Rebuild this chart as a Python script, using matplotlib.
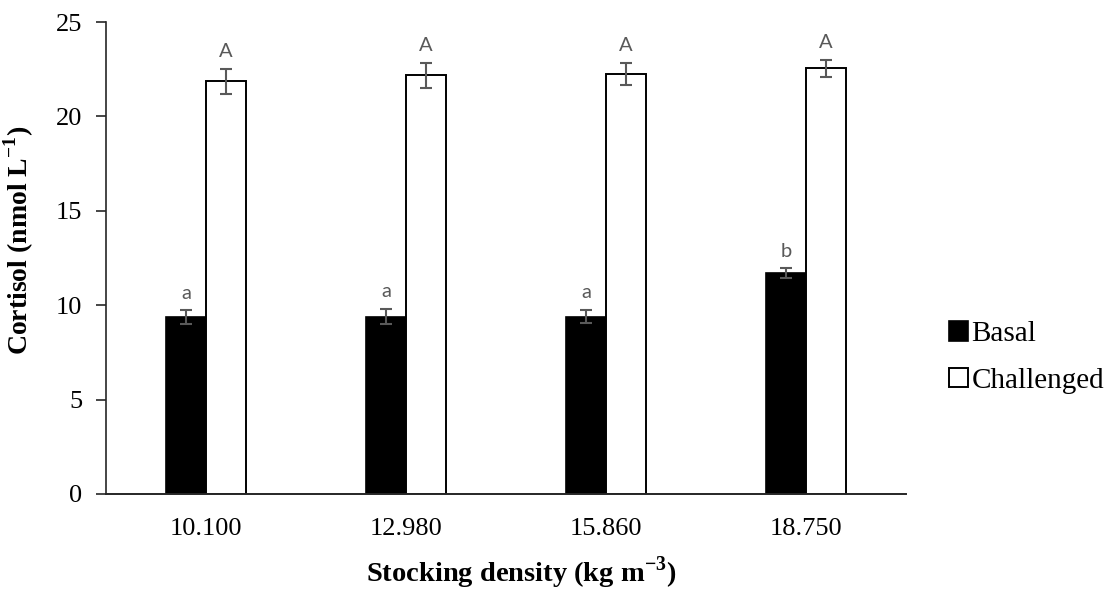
import numpy as np
import matplotlib.pyplot as plt

densities = ["10.100", "12.980", "15.860", "18.750"]
basal = [9.35, 9.4, 9.4, 11.7]
basal_err = [0.37, 0.4, 0.35, 0.27]
challenged = [21.87, 22.19, 22.25, 22.55]
challenged_err = [0.66, 0.66, 0.58, 0.44]
basal_letters = ["a", "a", "a", "b"]
challenged_letters = ["A", "A", "A", "A"]

plt.rcParams['font.family'] = ['Liberation Serif', 'DejaVu Serif']
plt.rcParams['mathtext.fontset'] = 'custom'
plt.rcParams['mathtext.rm'] = 'Liberation Serif'
plt.rcParams['mathtext.bf'] = 'Liberation Serif:bold'

fig = plt.figure(figsize=(11.08, 5.89), dpi=100)
ax = fig.add_axes([0.0957, 0.1613, 0.722, 0.8013])

x = np.arange(len(densities))
w = 0.2
ebar = dict(ecolor='#595959', elinewidth=1.5, capsize=4.5, capthick=1.5)
b1 = ax.bar(x - w / 2, basal, w, color='black', edgecolor='black', linewidth=1.2,
            yerr=basal_err, error_kw=ebar, label='Basal')
b2 = ax.bar(x + w / 2, challenged, w, color='white', edgecolor='black', linewidth=1.4,
            yerr=challenged_err, error_kw=ebar, label='Challenged')

for xi, v, e, t in zip(x - w / 2, basal, basal_err, basal_letters):
    ax.text(xi, v + e + 0.45, t, ha='center', va='bottom', fontsize=14.5,
            color='#595959', family=['Lato', 'DejaVu Sans'])
for xi, v, e, t in zip(x + w / 2, challenged, challenged_err, challenged_letters):
    ax.text(xi, v + e + 0.45, t, ha='center', va='bottom', fontsize=14.5,
            color='#595959', family=['Lato', 'DejaVu Sans'])

ax.set_xlim(-0.5, 3.5)
ax.set_ylim(0, 25)
ax.set_yticks(np.arange(0, 26, 5))
ax.set_xticks(x)
ax.set_xticklabels(densities)
ax.tick_params(axis='x', length=0, pad=17, labelsize=19)
ax.tick_params(axis='y', length=7, width=1.2, labelsize=19, pad=10, color='#262626')
ax.spines['top'].set_visible(False)
ax.spines['right'].set_visible(False)
ax.spines['left'].set_color('#262626')
ax.spines['left'].set_linewidth(1.2)
ax.spines['bottom'].set_color('#262626')
ax.spines['bottom'].set_linewidth(1.4)

ax.set_ylabel('Cortisol (nmol L$^{\\mathbf{-1}}$)', fontsize=20, fontweight='bold')
ax.yaxis.set_label_coords(-0.087, 0.538)
ax.set_xlabel('Stocking density (kg m$^{\\mathbf{-3}}$)', fontsize=20.5, fontweight='bold')
ax.xaxis.set_label_coords(0.519, -0.128)

leg = fig.legend(handles=[b1, b2], labels=['Basal', 'Challenged'], loc='center left',
                 bbox_to_anchor=(0.833, 0.393), frameon=False, fontsize=21,
                 handlelength=0.65, handleheight=0.65, handletextpad=0.12, labelspacing=0.7)

fig.savefig('out.png', dpi=100)
